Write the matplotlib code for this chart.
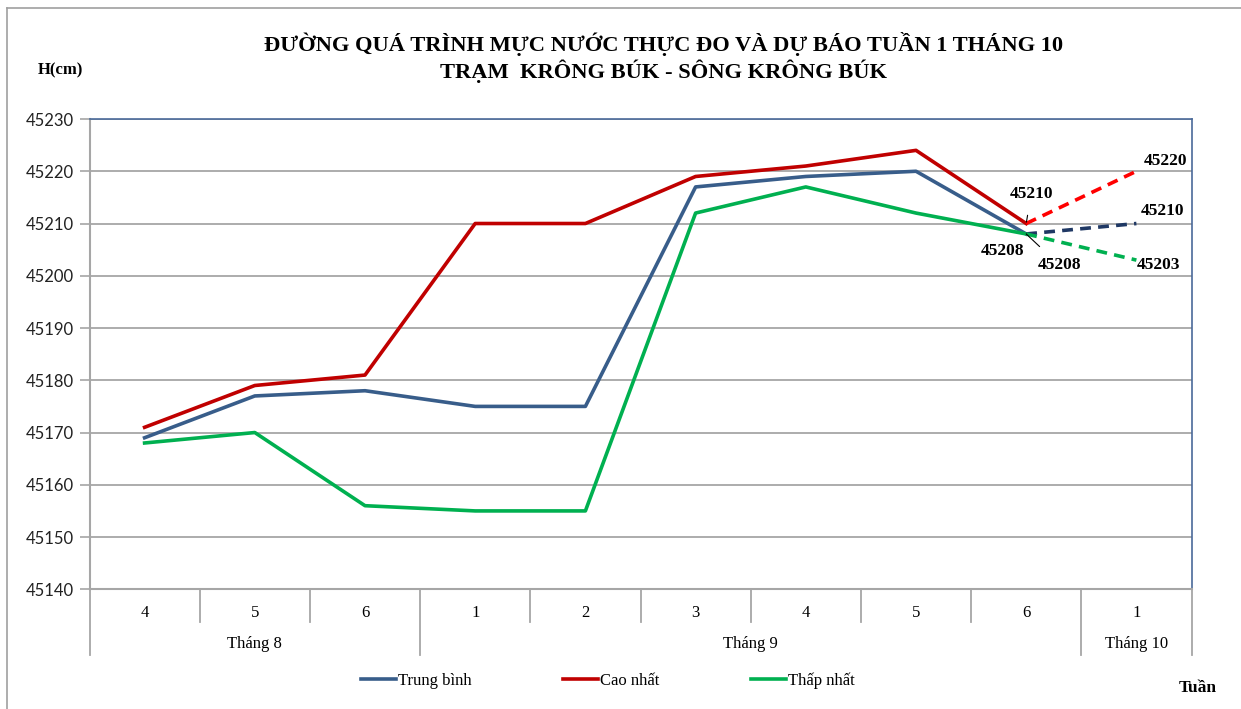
import matplotlib
matplotlib.use('Agg')
import matplotlib.pyplot as plt
from matplotlib.lines import Line2D
import matplotlib.transforms as mtransforms

# ---- data ----
weeks = ['4', '5', '6', '1', '2', '3', '4', '5', '6', '1']
months = ['Tháng 8', 'Tháng 9', 'Tháng 10']
month_spans = [(0, 2), (3, 8), (9, 9)]
trung_binh = [45169, 45177, 45178, 45175, 45175, 45217, 45219, 45220, 45208]
cao_nhat = [45171, 45179, 45181, 45210, 45210, 45219, 45221, 45224, 45210]
thap_nhat = [45168, 45170, 45156, 45155, 45155, 45212, 45217, 45212, 45208]
# forecast: last observed -> week 1 of October
fc_tb = [45208, 45210]
fc_cao = [45210, 45220]
fc_thap = [45208, 45203]
yticks = list(range(45140, 45231, 10))

serif = 'Liberation Serif'
W, H = 1241, 709
fig = plt.figure(figsize=(W / 100, H / 100), dpi=100)
ax = fig.add_axes([89.5 / W, (H - 589.3) / H, 1102 / W, 470.3 / H])

x_obs = list(range(len(trung_binh)))
x_fc = [len(trung_binh) - 1, len(trung_binh)]

c_tb, c_cao, c_thap = '#385D8A', '#C00000', '#00B050'
l1, = ax.plot(x_obs, trung_binh, color=c_tb, lw=2.6, label='Trung bình', zorder=3)
l2, = ax.plot(x_obs, cao_nhat, color=c_cao, lw=2.6, label='Cao nhất', zorder=3)
l3, = ax.plot(x_obs, thap_nhat, color=c_thap, lw=2.6, label='Thấp nhất', zorder=3)
ax.plot(x_fc, fc_cao, color='#FF0000', lw=2.6, ls=(0, (3, 2)), zorder=3)
ax.plot(x_fc, fc_tb, color='#1F3864', lw=2.6, ls=(0, (3, 2)), zorder=3)
ax.plot(x_fc, fc_thap, color='#00B050', lw=2.6, ls=(0, (3, 2)), zorder=3)

ax.set_xlim(-0.5, len(weeks) - 0.5)
ax.set_ylim(yticks[0], yticks[-1])
ax.set_yticks(yticks)
ax.set_yticklabels([str(v) for v in yticks], fontsize=12, family='Lato', color='#222222')
ax.tick_params(axis='y', length=7, width=1.2, color='#A6A6A6', pad=4)
ax.set_xticks([])
ax.grid(axis='y', color='#A6A6A6', lw=1.3)
ax.set_axisbelow(True)
for s in ['left', 'bottom']:
    ax.spines[s].set_color('#A6A6A6')
    ax.spines[s].set_linewidth(1.5)
for s in ['top', 'right']:
    ax.spines[s].set_color('#4A6A9A')
    ax.spines[s].set_linewidth(1.2)

# multi-level category axis
tr = mtransforms.blended_transform_factory(ax.transData, ax.transAxes)
long_bounds = {month_spans[0][0] - 0.5} | {e + 0.5 for _, e in month_spans}
for i in range(len(weeks) + 1):
    xb = i - 0.5
    ybot = -0.14 if xb in long_bounds else -0.069
    ax.plot([xb, xb], [0, ybot], transform=tr, color='#A6A6A6', lw=1.3, clip_on=False)
for i, w in enumerate(weeks):
    ax.text(i, -0.05, w, transform=tr, ha='center', va='center', fontsize=12, family=serif)
for m, (a, b) in zip(months, month_spans):
    ax.text((a + b) / 2, -0.117, m, transform=tr, ha='center', va='center', fontsize=12, family=serif)

# value labels
lab = dict(fontsize=12.5, family=serif, fontweight='bold', textcoords='offset pixels',
           ha='center', va='center')
last = len(trung_binh) - 1
ax.annotate(str(cao_nhat[last]), xy=(last, cao_nhat[last]), xytext=(5, 30),
            arrowprops=dict(arrowstyle='-', color='black', lw=0.8, shrinkA=8, shrinkB=1), **lab)
ax.annotate(str(thap_nhat[last]), xy=(last, thap_nhat[last]), xytext=(-24, -17), **lab)
ax.annotate(str(trung_binh[last]), xy=(last, trung_binh[last]), xytext=(33, -31),
            arrowprops=dict(arrowstyle='-', color='black', lw=0.8, shrinkA=8, shrinkB=0), **lab)
ax.annotate(str(fc_cao[1]), xy=(x_fc[1], fc_cao[1]), xytext=(29, 10), **lab)
ax.annotate(str(fc_tb[1]), xy=(x_fc[1], fc_tb[1]), xytext=(26, 13), **lab)
ax.annotate(str(fc_thap[1]), xy=(x_fc[1], fc_thap[1]), xytext=(22, -5), **lab)

# titles and labels
fig.text(664 / W, 1 - 44 / H, 'ĐƯỜNG QUÁ TRÌNH MỰC NƯỚC THỰC ĐO VÀ DỰ BÁO TUẦN 1 THÁNG 10',
         ha='center', va='center', fontsize=16.2, family=serif, fontweight='bold')
fig.text(664 / W, 1 - 71 / H, 'TRẠM  KRÔNG BÚK - SÔNG KRÔNG BÚK',
         ha='center', va='center', fontsize=16.2, family=serif, fontweight='bold')
fig.text(60 / W, 1 - 70 / H, 'H(cm)', ha='center', va='center', fontsize=12,
         family=serif, fontweight='bold')
fig.text(1198 / W, 1 - 688 / H, 'Tuần', ha='center', va='center', fontsize=12.5,
         family=serif, fontweight='bold')

leg = fig.legend(handles=[l1, l2, l3], loc='center', bbox_to_anchor=(608 / W, 1 - 681 / H),
                 ncol=3, frameon=False, handlelength=2.1, handletextpad=0.1,
                 columnspacing=5.5, prop={'family': serif, 'size': 12})

# outer frame of the picture
fig.add_artist(Line2D([7 / W, 7 / W], [0, 1 - 8 / H], transform=fig.transFigure,
                      color='#A0A0A0', lw=1.2))
fig.add_artist(Line2D([7 / W, 1], [1 - 8 / H, 1 - 8 / H], transform=fig.transFigure,
                      color='#A0A0A0', lw=1.2))

fig.savefig('out.png', dpi=100)
